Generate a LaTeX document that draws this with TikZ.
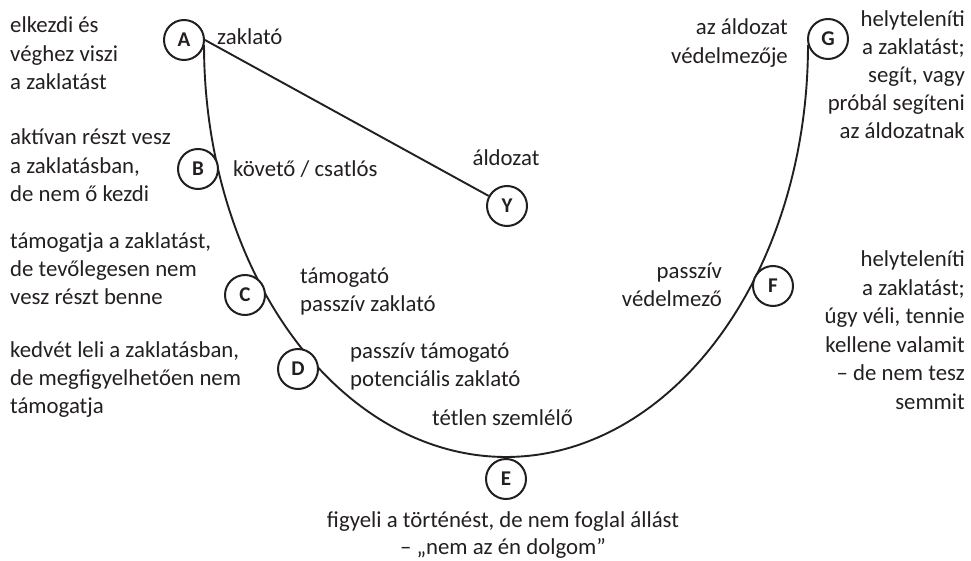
\documentclass[tikz,border=0pt]{standalone}
\usepackage{fontspec}
\setmainfont{Carlito}
\definecolor{ink}{RGB}{35,31,32}
\newcommand{\fsz}{\fontsize{22.8}{28.3}\selectfont}
\tikzset{
  rolecirc/.style={circle, draw=ink, line width=2pt, minimum size=40pt, inner sep=0pt,
    fill=white, text=ink, font=\fontsize{21}{21}\selectfont\bfseries},
  txtl/.style={inner sep=0pt, anchor=base west, align=left, text=ink, font=\fsz},
  txtr/.style={inner sep=0pt, anchor=base east, align=right, text=ink, font=\fsz},
  txtc/.style={inner sep=0pt, anchor=base, align=center, text=ink, font=\fsz},
  line/.style={draw=ink, line width=1.9pt}
}
\begin{document}
\begin{tikzpicture}[x=1pt,y=-1pt]
\useasboundingbox (0,0) rectangle (971,561);
% curve (half ellipse)
\draw[line] plot[domain=180:360, samples=120, smooth] ({506+302*cos(\x)}, {45-412*sin(\x)});
% circles
\node[rolecirc] (A) at (184,40) {A};
\node[rolecirc] (B) at (198,169) {B};
\node[rolecirc] (C) at (245,295) {C};
\node[rolecirc] (D) at (298,369) {D};
\node[rolecirc] (E) at (506,479) {E};
\node[rolecirc] (F) at (773,286) {F};
\node[rolecirc] (G) at (828,39) {G};
\node[rolecirc] (Y) at (507,206) {Y};
\draw[line] (A.east) -- (Y);
% left descriptions (anchor = baseline of last line)
\node[txtl] (tA) at (10,89.6) {elkezdi és\\véghez viszi\\a zaklatást};
\node[txtl] (tB) at (10,201.6) {aktívan részt vesz\\a zaklatásban,\\de nem ő kezdi};
\node[txtl] (tC) at (10,304.6) {támogatja a zaklatást,\\de tevőlegesen nem\\vesz részt benne};
\node[txtl] (tD) at (10,413.6) {kedvét leli a zaklatásban,\\de megfigyelhetően nem\\támogatja};
% role labels
\node[txtl] (lA) at (217,45) {zaklató};
\node[txtl] (lB) at (233,177) {követő / csatlós};
\node[txtc] (lY) at (506,166) {áldozat};
\node[txtl] (lC) at (300,311.3) {támogató\\passzív zaklató};
\node[txtl] (lD) at (350,386.3) {passzív támogató\\potenciális zaklató};
\node[txtl] (lE) at (432,425) {tétlen szemlélő};
\node[txtr] (lF) at (722,306.5) {passzív\\védelmező};
\node[txtr] (lG) at (788,63.3) {az áldozat\\védelmezője};
% right descriptions
\node[txtr, font=\fontsize{22.8}{28}\selectfont] (tG) at (965,139) {helyteleníti\\a zaklatást;\\segít, vagy\\próbál segíteni\\az áldozatnak};
\node[txtr, font=\fontsize{22.8}{28.5}\selectfont] (tF) at (965,409) {helyteleníti\\a zaklatást;\\úgy véli, tennie\\kellene valamit\\– de nem tesz\\semmit};
% bottom description
\node[txtc, font=\fontsize{22.8}{27}\selectfont] (tE) at (503,554) {figyeli a történést, de nem foglal állást\\– „nem az én dolgom”};
\end{tikzpicture}
\end{document}
